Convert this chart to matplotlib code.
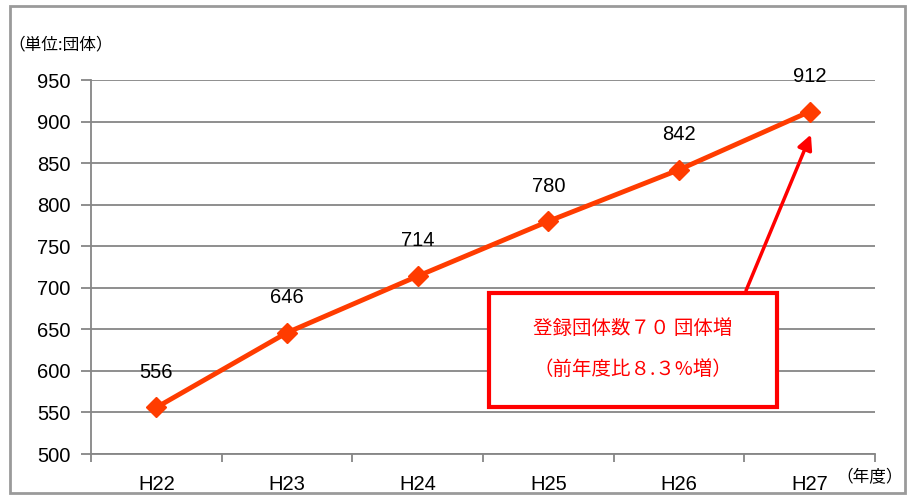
import numpy as np
import matplotlib.pyplot as plt
from matplotlib.patches import Rectangle, FancyArrowPatch

plt.rcParams['font.family'] = ['Liberation Sans', 'Noto Sans CJK JP', 'DejaVu Sans']
jp = ['Noto Sans CJK JP', 'DejaVu Sans']

# data
years = ['H22', 'H23', 'H24', 'H25', 'H26', 'H27']
counts = [556, 646, 714, 780, 842, 912]
y_ticks = [500, 550, 600, 650, 700, 750, 800, 850, 900, 950]

W, H = 909, 497
fig = plt.figure(figsize=(W / 100, H / 100), dpi=100)
ax = fig.add_axes([91 / W, 1 - 454 / H, (875 - 91) / W, (454 - 80) / H])

x = np.arange(len(years))
line_color = '#FF3C00'
ax.plot(x, counts, color=line_color, linewidth=3.5, marker='D', markersize=10,
        markerfacecolor=line_color, markeredgecolor=line_color, zorder=3)
for xi, v in zip(x, counts):
    ax.text(xi, v + 31, str(v), ha='center', va='bottom', fontsize=14.5)

ax.set_xlim(-0.5, len(years) - 0.5)
ax.set_ylim(500, 950)
ax.set_yticks(y_ticks)
ax.set_yticklabels([str(t) for t in y_ticks], fontsize=14.5)
ax.yaxis.grid(True, color='#868686', linewidth=1.3)
ax.set_axisbelow(True)

# category ticks at boundaries, labels at centres
ax.set_xticks(np.arange(-0.5, len(years), 1.0))
ax.set_xticklabels([])
ax.set_xticks(x, minor=True)
ax.set_xticklabels(years, minor=True, fontsize=14.5)
ax.tick_params(axis='x', which='major', length=6, color='#868686', width=1.3, direction='out')
ax.tick_params(axis='x', which='minor', length=0, pad=15)
ax.tick_params(axis='y', length=7, color='#868686', width=1.3, pad=8)

for s in ['top', 'right']:
    ax.spines[s].set_visible(False)
for s in ['left', 'bottom']:
    ax.spines[s].set_color('#868686')
    ax.spines[s].set_linewidth(1.3)

fig.text(8 / W, 1 - 45 / H, '（単位:団体）', fontsize=12, va='center', ha='left', family=jp)
fig.text(836 / W, 1 - 478 / H, '（年度）', fontsize=12, va='center', ha='left', family=jp)

# annotation box
box = Rectangle((489 / W, 1 - 407 / H), (777 - 489) / W, (407 - 293) / H,
                transform=fig.transFigure, facecolor='white', edgecolor='#FF0000',
                linewidth=3, zorder=5)
fig.add_artist(box)
fig.text(633 / W, 1 - 328 / H, '登録団体数７０ 団体増', color='#FF0000', fontsize=14,
         ha='center', va='center', zorder=6, family=jp)
fig.text(633 / W, 1 - 369 / H, '（前年度比８.３%増）', color='#FF0000', fontsize=14,
         ha='center', va='center', zorder=6, family=jp)
arrow = FancyArrowPatch((745 / W, 1 - 293 / H), (812 / W, 1 - 132 / H),
                        transform=fig.transFigure, arrowstyle='-|>', mutation_scale=22,
                        color='#FF0000', linewidth=2.5, zorder=4)
fig.add_artist(arrow)

# outer frame
frame = Rectangle((10 / W, 1 - 493 / H), (W - 14) / W, (493 - 6) / H,
                  transform=fig.transFigure, facecolor='none', edgecolor='#9a9a9a',
                  linewidth=2, zorder=0)
fig.add_artist(frame)

fig.savefig('out.png', dpi=100)
